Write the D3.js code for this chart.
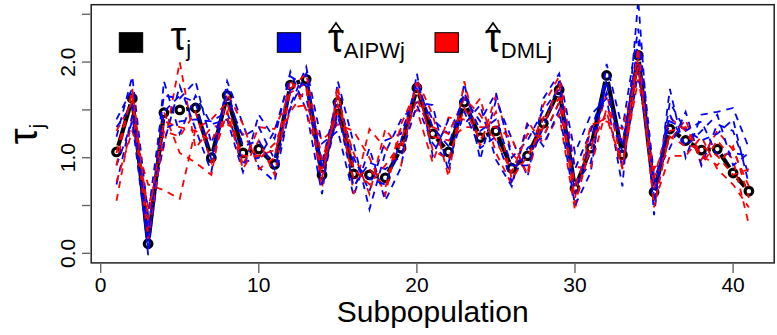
<!DOCTYPE html>
<html><head><meta charset="utf-8">
<script src="https://cdn.jsdelivr.net/npm/d3@7"></script>
<style>body{margin:0;background:#fff}svg{display:block}text{font-family:"Liberation Sans",Arial,sans-serif}</style>
</head><body><svg id="c" width="777" height="335"></svg>
<script>
const subpop = d3.range(1, 42);
const tau = [1.06,1.62,0.10,1.47,1.50,1.52,1.00,1.65,1.05,1.09,0.93,1.76,1.82,0.82,1.58,0.83,0.82,0.79,1.10,1.73,1.25,1.06,1.58,1.21,1.28,0.89,1.02,1.36,1.71,0.68,1.10,1.86,1.03,2.07,0.64,1.30,1.18,1.08,1.09,0.84,0.65];
const aipw1 = [1.40,1.72,-0.02,1.80,1.25,1.65,1.35,1.40,0.85,1.45,1.20,1.90,1.50,0.62,1.80,1.15,0.46,1.05,1.40,1.58,1.55,0.85,1.78,0.98,1.60,1.20,0.80,1.62,1.88,1.05,1.45,1.62,0.70,2.65,0.40,1.72,1.00,1.45,1.48,1.52,1.10];
const aipw2 = [0.72,1.45,0.30,1.15,1.75,1.30,0.85,1.80,1.35,0.90,0.75,1.55,1.95,1.15,1.28,0.60,1.10,0.55,0.90,1.88,1.02,1.40,1.35,1.55,0.98,0.70,1.35,1.12,1.50,0.50,0.85,1.98,1.30,2.35,0.80,1.10,1.48,0.92,1.35,1.28,0.82];
const aipw3 = [1.22,1.85,0.40,1.65,1.62,1.80,1.15,1.62,1.22,1.32,0.98,1.72,1.62,0.95,1.65,1.00,0.65,1.18,1.25,1.72,1.40,1.25,1.62,1.38,1.68,1.00,1.18,1.50,1.72,0.88,1.28,1.78,1.05,2.22,0.52,1.58,1.28,1.38,1.02,1.05,1.02];
const aipw4 = [0.92,1.38,0.05,1.30,1.38,1.40,1.38,1.48,0.95,1.00,1.28,1.85,1.75,0.72,1.48,0.70,0.95,0.88,1.02,1.55,1.15,0.95,1.48,1.10,1.22,0.75,1.10,1.22,1.58,0.72,0.95,1.82,0.88,1.90,0.72,1.38,1.30,1.18,1.25,1.40,0.72];
const aipw5 = [1.32,1.55,0.18,1.48,1.65,1.58,0.98,1.72,1.12,1.18,0.88,1.52,1.88,0.88,1.42,0.95,0.78,0.72,1.18,1.80,1.32,1.12,1.68,1.28,1.40,0.92,0.92,1.32,1.80,0.62,1.18,1.68,1.15,2.08,0.58,1.45,1.12,1.28,1.45,0.92,1.05];
const dml1 = [0.55,1.42,0.48,1.12,2.00,1.10,1.32,1.35,1.25,0.98,1.15,1.52,1.55,1.18,1.35,1.28,1.00,0.61,1.32,1.50,0.95,1.42,1.40,1.62,1.05,0.72,1.38,1.15,1.45,0.45,1.32,1.42,0.92,1.82,0.88,1.18,1.40,0.92,1.18,0.98,0.30];
const dml2 = [0.75,1.28,0.72,0.66,0.57,1.30,1.40,1.58,0.92,1.32,1.30,1.68,1.78,0.68,1.75,0.62,1.30,1.10,0.92,1.82,1.45,0.80,1.80,1.12,1.65,1.05,0.85,1.55,1.85,0.90,0.90,1.52,1.15,2.05,0.52,1.02,1.02,1.22,0.88,0.72,0.48];
const dml3 = [1.05,1.68,0.22,1.48,1.05,0.95,0.82,1.68,1.35,0.88,1.00,1.82,1.50,0.88,1.55,1.05,0.62,1.30,1.08,1.62,1.22,1.18,1.32,1.32,1.32,1.20,0.82,1.42,1.62,0.58,1.35,1.38,1.30,1.95,0.78,1.42,1.28,0.98,1.28,1.08,0.70];
const dml4 = [1.28,1.58,0.15,1.28,1.22,1.48,0.95,1.48,0.88,1.18,0.82,1.72,1.88,0.98,1.48,0.78,0.88,0.68,1.35,1.72,1.32,1.25,1.62,1.45,1.18,0.85,1.25,1.22,1.58,0.72,1.08,1.68,0.92,2.00,0.68,1.22,1.12,1.12,1.02,0.82,0.88];
const dml5 = [0.92,1.72,0.35,1.38,1.32,1.28,1.18,1.42,1.02,1.02,1.08,1.48,1.72,0.78,1.68,0.88,0.72,0.92,1.15,1.78,1.08,0.98,1.52,1.18,1.48,0.78,1.02,1.32,1.78,0.52,1.12,1.48,0.88,2.15,0.48,1.28,1.32,1.02,0.92,1.12,0.58];
const aipwSeries = [aipw1, aipw2, aipw3, aipw4, aipw5];
const dmlSeries = [dml1, dml2, dml3, dml4, dml5];
const xTicks = [0, 10, 20, 30, 40];
const yTicks = [0, 0.5, 1.0, 1.5, 2.0, 2.5];
const yLabels = [0, 1.0, 2.0];

const svg = d3.select("#c");
const x = d3.scaleLinear().domain([-0.6, 42.6]).range([91.2, 774.2]);
const y = d3.scaleLinear().domain([-0.1, 2.6]).range([262.9, 4.7]);

svg.append("defs").append("clipPath").attr("id","clip").append("rect")
  .attr("x",91.2).attr("y",4.7).attr("width",683).attr("height",258.2);

const plot = svg.append("g").attr("clip-path","url(#clip)");

// black type="b" line
const pts = subpop.map((s,i)=>[x(s), y(tau[i])]);
const gap = 6.5;
for (let i=0;i<pts.length-1;i++){
  const [x0,y0]=pts[i],[x1,y1]=pts[i+1];
  const L=Math.hypot(x1-x0,y1-y0);
  if (L<=2*gap) continue;
  const ux=(x1-x0)/L, uy=(y1-y0)/L;
  plot.append("line").attr("x1",x0+ux*gap).attr("y1",y0+uy*gap)
    .attr("x2",x1-ux*gap).attr("y2",y1-uy*gap)
    .attr("stroke","#000").attr("stroke-width",4.2);
}
plot.selectAll("circle.pt").data(tau).join("circle").attr("class","pt")
  .attr("cx",(d,i)=>x(subpop[i])).attr("cy",d=>y(d)).attr("r",3.8)
  .attr("fill","none").attr("stroke","#000").attr("stroke-width",3.2);

const line = d3.line().x((d,i)=>x(subpop[i])).y(d=>y(d));
for (let k=0;k<5;k++){
  plot.append("path").attr("d",line(aipwSeries[k])).attr("fill","none")
    .attr("stroke","#0000ff").attr("stroke-width",1.8).attr("stroke-dasharray","7,6");
  plot.append("path").attr("d",line(dmlSeries[k])).attr("fill","none")
    .attr("stroke","#ff0000").attr("stroke-width",1.8).attr("stroke-dasharray","7,6");
}

// box
svg.append("rect").attr("x",91.2).attr("y",4.7).attr("width",683).attr("height",258.2)
  .attr("fill","none").attr("stroke","#222").attr("stroke-width",1.5);

// axes
const xa = svg.append("g");
xa.selectAll("line").data(xTicks).join("line")
  .attr("x1",d=>x(d)).attr("x2",d=>x(d)).attr("y1",263.6).attr("y2",273)
  .attr("stroke","#666").attr("stroke-width",1.4);
xa.selectAll("text").data(xTicks).join("text")
  .attr("x",d=>x(d)).attr("y",292).attr("text-anchor","middle")
  .attr("font-size",21).text(d=>d);
const ya = svg.append("g");
ya.selectAll("line").data(yTicks).join("line")
  .attr("x1",82).attr("x2",90.5).attr("y1",d=>y(d)).attr("y2",d=>y(d))
  .attr("stroke","#666").attr("stroke-width",1.4);
ya.selectAll("text").data(yLabels).join("text")
  .attr("transform",d=>`translate(75,${y(d)}) rotate(-90)`).attr("text-anchor","middle")
  .attr("font-size",21).text(d=>d3.format(".1f")(d));

svg.append("text").attr("x",432.7).attr("y",322).attr("text-anchor","middle")
  .attr("font-size",30).text("Subpopulation");
const yt = svg.append("text").attr("transform","translate(37,134) rotate(-90)").attr("text-anchor","middle");
yt.append("tspan").attr("font-size",40).text("τ");
yt.append("tspan").attr("font-size",21).attr("dy",7).text("j");

// legend
const leg = svg.append("g");
const items = [
  {box:119.3, fill:"#000", tx:170.5, hat:false, sub:"j"},
  {box:277.3, fill:"#0000ff", tx:328, hat:true, sub:"AIPWj"},
  {box:435, fill:"#ff0000", tx:485, hat:true, sub:"DMLj"}
];
items.forEach(it=>{
  leg.append("rect").attr("x",it.box).attr("y",32.7).attr("width",23.4).attr("height",19.6)
    .attr("fill",it.fill).attr("stroke","#000").attr("stroke-width",1);
  const by = it.hat ? 52 : 49.5;
  const t = leg.append("text").attr("x",it.tx).attr("y",by);
  t.append("tspan").attr("font-size",40).text("τ");
  t.append("tspan").attr("font-size",22).attr("dy",6).text(it.sub);
  if (it.hat){
    leg.append("path").attr("d",`M${it.tx+1},${by-19} L${it.tx+8},${by-29} L${it.tx+15},${by-19}`)
      .attr("fill","none").attr("stroke","#000").attr("stroke-width",1.6);
  }
});
</script></body></html>
